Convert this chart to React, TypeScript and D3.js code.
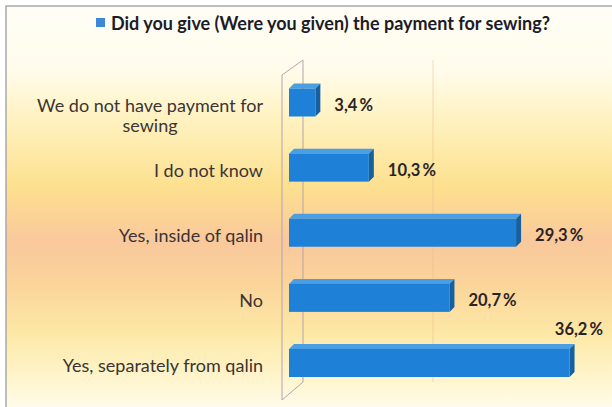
import { useEffect, useRef } from "react";
import * as d3 from "d3";

const title = "Did you give (Were you given) the payment for sewing?";
const categories = [
  "We do not have payment for sewing",
  "I do not know",
  "Yes, inside of qalin",
  "No",
  "Yes, separately from qalin"
];
const categoryLines = [
  ["We do not have payment for", "sewing"],
  ["I do not know"],
  ["Yes, inside of qalin"],
  ["No"],
  ["Yes, separately from qalin"]
];
const values = [3.4, 10.3, 29.3, 20.7, 36.2];
const gridTicks = [20];

const fmt = (v: number) => v.toFixed(1).replace(".", ",") + "\u2009%";

export default function App() {
  const svgRef = useRef<SVGSVGElement>(null);
  const width = 612;
  const height = 407;

  useEffect(() => {
    document.body.style.margin = "0";
    const svg = svgRef.current;
    if (!svg) return;
    const root = d3.select(svg);
    root.selectAll("*").remove();

    const font = "Lato, 'Open Sans', sans-serif";

    // background
    const defs = root.append("defs");
    const grad = defs
      .append("linearGradient")
      .attr("id", "bg")
      .attr("x1", 0)
      .attr("y1", 0)
      .attr("x2", 0)
      .attr("y2", 1);
    [
      [0, "#fffef6"],
      [0.15, "#fffcec"],
      [0.28, "#fff1bd"],
      [0.43, "#fde08f"],
      [0.56, "#f9c89c"],
      [0.66, "#fbd49a"],
      [0.78, "#fde8a6"],
      [0.9, "#fff6d2"],
      [1, "#ffffff"]
    ].forEach(([o, c]) =>
      grad.append("stop").attr("offset", o as number).attr("stop-color", c as string)
    );

    root.append("rect").attr("width", width).attr("height", height).attr("fill", "#ffffff");
    root
      .append("rect")
      .attr("x", 6)
      .attr("y", 6)
      .attr("width", 620)
      .attr("height", 420)
      .attr("fill", "url(#bg)")
      .attr("stroke", "#a9a9ad")
      .attr("stroke-width", 1.5);

    const x = d3.scaleLinear().domain([0, 40]).range([289, 599]);
    const xBack = d3.scaleLinear().domain([0, 40]).range([303, 563]);
    const y = d3.scalePoint<string>().domain(categories).range([102.5, 363]);
    const barH = 28;
    const dx = 5;
    const dy = 5;

    // back wall
    const wallFront = x(0) - 7;
    const wallBack = xBack(0);
    root
      .append("polygon")
      .attr(
        "points",
        [
          [wallFront, 75],
          [wallBack, 60],
          [wallBack, 382],
          [wallFront, 400]
        ]
          .map((p) => p.join(","))
          .join(" ")
      )
      .attr("fill", "none")
      .attr("stroke", "#b5a3ab")
      .attr("stroke-width", 1);

    root
      .append("g")
      .selectAll("line")
      .data(gridTicks)
      .join("line")
      .attr("x1", (d) => xBack(d))
      .attr("x2", (d) => xBack(d))
      .attr("y1", 60)
      .attr("y2", 382)
      .attr("stroke", "#e8b890")
      .attr("stroke-opacity", 0.5)
      .attr("stroke-width", 1);

    // bars
    const bars = root
      .append("g")
      .selectAll("g")
      .data(values)
      .join("g");

    bars.each(function (v, i) {
      const g = d3.select(this);
      const c = y(categories[i])!;
      const x0 = x(0);
      const x1 = x(v);
      const top = c - barH / 2;
      const bottom = c + barH / 2;
      g.append("polygon")
        .attr(
          "points",
          `${x0},${top} ${x0 + dx},${top - dy} ${x1 + dx},${top - dy} ${x1},${top}`
        )
        .attr("fill", "#4a9fe4");
      g.append("polygon")
        .attr(
          "points",
          `${x1},${top} ${x1 + dx},${top - dy} ${x1 + dx},${bottom - dy} ${x1},${bottom}`
        )
        .attr("fill", "#15609f");
      g.append("rect")
        .attr("x", x0)
        .attr("y", top)
        .attr("width", x1 - x0)
        .attr("height", barH)
        .attr("fill", "#1e80d6");
    });

    // value labels
    const vl = root
      .append("g")
      .selectAll("text")
      .data(values)
      .join("text")
      .attr("font-family", font)
      .attr("font-size", 16.5)
      .attr("font-weight", 700)
      .attr("fill", "#2b2424")
      .attr("dominant-baseline", "central")
      .attr("x", (d) => x(d) + 19)
      .attr("y", (_, i) => y(categories[i])! + 2.5)
      .text((d) => fmt(d));
    vl.each(function () {
      const t = this as SVGTextElement;
      const sx = +t.getAttribute("x")!;
      if (sx + t.getComputedTextLength() > width - 8) {
        d3.select(t)
          .attr("text-anchor", "end")
          .attr("x", width - 9)
          .attr("y", +t.getAttribute("y")! - 36.5);
      }
    });

    // category labels
    const labelRight = 263;
    categoryLines.forEach((lines, i) => {
      const c = y(categories[i])! + 2;
      const g = root.append("g");
      const texts = lines.map((ln, j) =>
        g
          .append("text")
          .attr("font-family", font)
          .attr("font-size", 18)
          .attr("fill", "#3a3434")
          .attr("dominant-baseline", "central")
          .attr("y", c + j * 20.5)
          .text(ln)
      );
      const maxW = d3.max(texts, (t) => (t.node() as SVGTextElement).getComputedTextLength()) ?? 0;
      texts.forEach((t) =>
        t.attr("text-anchor", "middle").attr("x", labelRight - maxW / 2)
      );
    });

    // title legend
    root
      .append("rect")
      .attr("x", 96)
      .attr("y", 18)
      .attr("width", 9)
      .attr("height", 9)
      .attr("fill", "#3d87d6");
    root
      .append("text")
      .attr("x", 111)
      .attr("y", 22.5)
      .attr("dominant-baseline", "central")
      .attr("font-family", font)
      .attr("font-size", 18)
      .attr("font-weight", 700)
      .attr("fill", "#1c1c28")
      .text(title);
  }, []);

  return <svg ref={svgRef} width={width} height={height} style={{ display: "block" }} />;
}
